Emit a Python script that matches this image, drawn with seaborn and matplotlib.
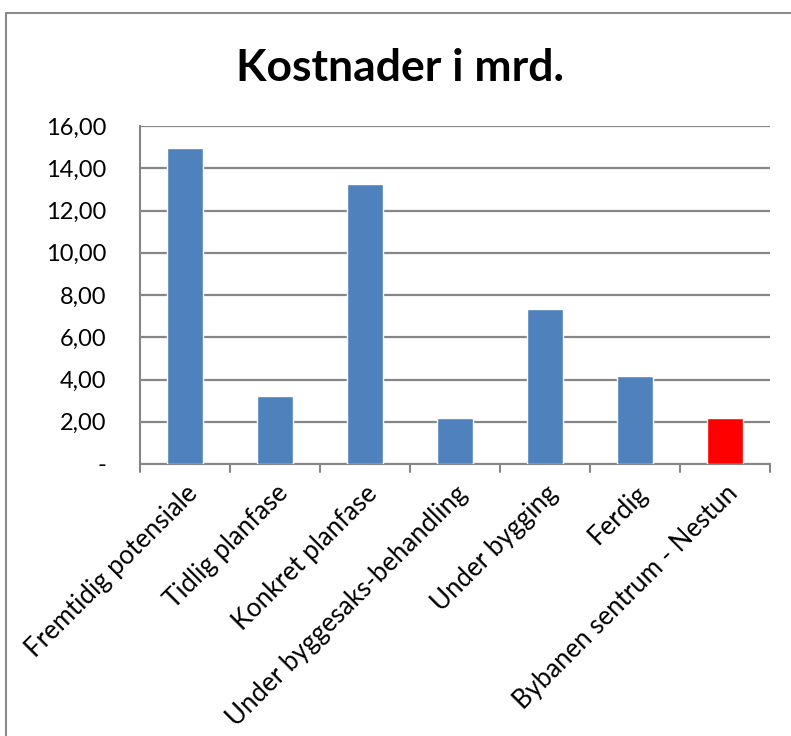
import matplotlib.pyplot as plt
import seaborn as sns
from matplotlib.lines import Line2D

categories = ['Fremtidig potensiale', 'Tidlig planfase', 'Konkret planfase',
              'Under byggesaks-behandling', 'Under bygging', 'Ferdig',
              'Bybanen sentrum - Nestun']
costs = [14.98, 3.22, 13.26, 2.19, 7.32, 4.16, 2.19]
colors = ['#4F81BD'] * 6 + ['#FF0000']
y_ticks = [0, 2, 4, 6, 8, 10, 12, 14, 16]
y_labels = ['-', '2,00', '4,00', '6,00', '8,00', '10,00', '12,00', '14,00', '16,00']

sns.set_style('white', {'text.color': 'black', 'xtick.color': 'black',
                        'ytick.color': 'black'})
plt.rcParams['font.family'] = ['Lato', 'DejaVu Sans']

fig = plt.figure(figsize=(7.91, 7.36), dpi=100)
ax = fig.add_axes([140 / 791, 1 - 464 / 736, 630 / 791, 338 / 736])

sns.barplot(x=categories, y=costs, hue=categories, palette=colors,
            legend=False, width=0.39, saturation=1, ax=ax, zorder=3)

ax.set_ylim(0, 16)
ax.set_xlim(-0.5, len(categories) - 0.5)
ax.set_yticks(y_ticks)
ax.set_yticklabels(y_labels, fontsize=17, color='black')
ax.grid(axis='y', color='#868686', linewidth=1.6, zorder=0)
ax.tick_params(axis='y', length=9, width=1.2, color='#868686', pad=15)

# category ticks sit between the bars, like Excel
ax.set_xticks(range(len(categories)))
ax.set_xticklabels(categories, rotation=45, ha='right', rotation_mode='anchor',
                   fontsize=18.5, color='black')
ax.tick_params(axis='x', length=0, pad=12)
for b in [i - 0.5 for i in range(len(categories) + 1)]:
    ax.plot([b, b], [0, -0.4], color='#868686', lw=1.5, clip_on=False, zorder=3)

for side in ['top', 'right']:
    ax.spines[side].set_visible(False)
for side in ['left', 'bottom']:
    ax.spines[side].set_color('#868686')
    ax.spines[side].set_linewidth(1.5)

fig.text(400 / 791, 1 - 68 / 736, 'Kostnader i mrd.', fontsize=32, fontweight='bold',
         color='black', ha='center', va='center')

# chart area border
fig.add_artist(Line2D([6 / 791, 1], [1 - 13 / 736, 1 - 13 / 736], color='#8c8c8c', lw=1.5))
fig.add_artist(Line2D([6 / 791, 6 / 791], [0, 1 - 13 / 736], color='#8c8c8c', lw=1.5))

fig.savefig('out.png', dpi=100)
